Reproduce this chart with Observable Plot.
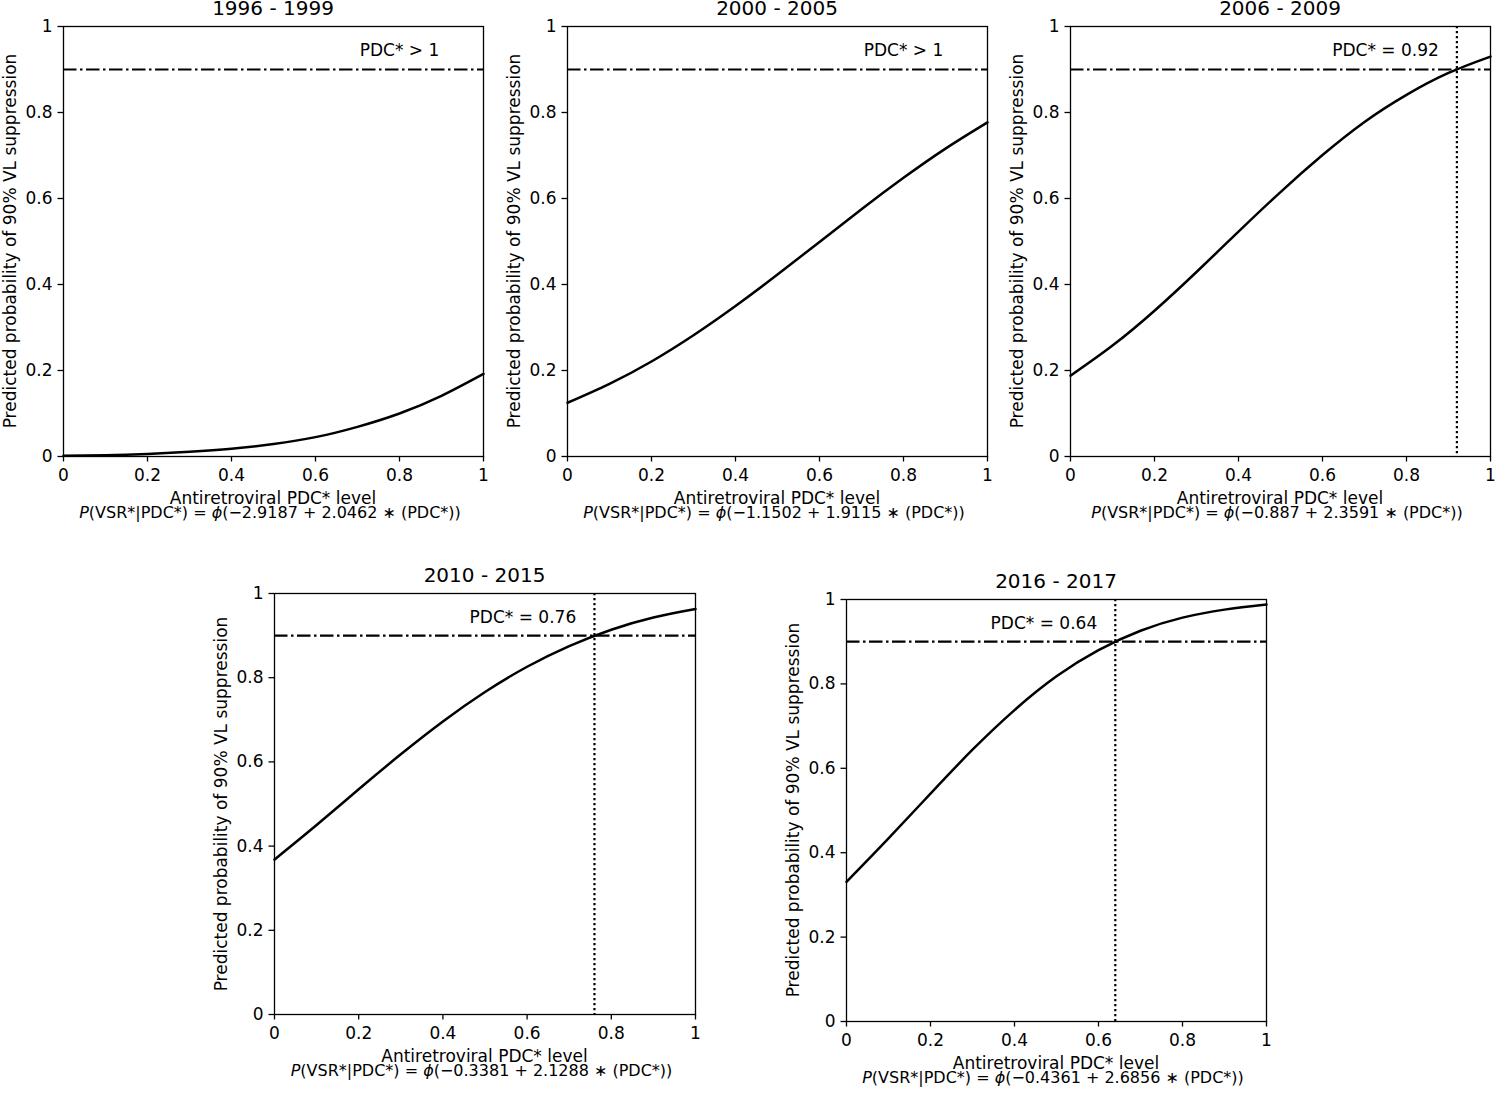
<!DOCTYPE html>
<html>
<head>
<meta charset="utf-8">
<script src="https://cdn.jsdelivr.net/npm/d3@7"></script>
<script src="https://cdn.jsdelivr.net/npm/@observablehq/plot@0.6"></script>
<style>
  html, body { margin: 0; padding: 0; background: #fff; overflow: hidden; }
  #page { position: relative; width: 1495px; height: 1093px; font-family: "DejaVu Sans", sans-serif; color: #000; }
  .abs { position: absolute; white-space: nowrap; }
  .title { font-size: 20px; line-height: 16px; transform: translateX(-50%); }
  .xlab { font-size: 17px; line-height: 13px; transform: translateX(-50%); }
  .formula { font-size: 16px; line-height: 13px; transform: translateX(-50%); }
  .ylab { font-size: 17px; line-height: 17px; transform: translate(-50%, -50%) rotate(-90deg); }
  svg { position: absolute; }
</style>
</head>
<body>
<div id="page"></div>
<script>
// ---- data ----
const periods = ["1996 - 1999", "2000 - 2005", "2006 - 2009", "2010 - 2015", "2016 - 2017"];
const pdcLevels = [0, 0.1, 0.2, 0.3, 0.4, 0.5, 0.6, 0.7, 0.8, 0.9, 1.0];
const prob1996 = [0.002, 0.003, 0.006, 0.011, 0.018, 0.029, 0.045, 0.069, 0.100, 0.141, 0.192];
const prob2000 = [0.125, 0.169, 0.221, 0.282, 0.350, 0.423, 0.499, 0.575, 0.648, 0.716, 0.777];
const prob2006 = [0.188, 0.258, 0.339, 0.429, 0.523, 0.615, 0.701, 0.778, 0.841, 0.892, 0.930];
const prob2010 = [0.368, 0.450, 0.535, 0.618, 0.696, 0.766, 0.826, 0.875, 0.914, 0.943, 0.963];
const prob2016 = [0.331, 0.434, 0.540, 0.644, 0.738, 0.818, 0.880, 0.926, 0.957, 0.976, 0.988];
const thresholds = [null, null, 0.92, 0.76, 0.64];
const annotations = ["PDC* > 1", "PDC* > 1", "PDC* = 0.92", "PDC* = 0.76", "PDC* = 0.64"];
const annotationX = [0.8, 0.8, 0.75, 0.59, 0.47];
const annotationY = 0.95;
const targetProb = 0.9;
const intercepts = ["−2.9187", "−1.1502", "−0.887", "−0.3381", "−0.4361"];
const slopes = ["2.0462", "1.9115", "2.3591", "2.1288", "2.6856"];
const tickValues = [0, 0.2, 0.4, 0.6, 0.8, 1];
const tickLabels = ["0", "0.2", "0.4", "0.6", "0.8", "1"];
const xLabel = "Antiretroviral PDC* level";
const yLabel = "Predicted probability of 90% VL suppression";
const series = [prob1996, prob2000, prob2006, prob2010, prob2016];

// ---- layout (frame boxes in page pixels) ----
const frames = [
  {L: 63, T: 26, W: 420, H: 430},
  {L: 567, T: 26, W: 420, H: 430},
  {L: 1070, T: 26, W: 420, H: 430},
  {L: 274, T: 593, W: 421, H: 421},
  {L: 846, T: 599, W: 420, H: 422}
];
const mL = 60, mR = 5, mT = 10, mB = 30;
const page = document.getElementById("page");

function addDiv(cls, html, left, top) {
  const d = document.createElement("div");
  d.className = "abs " + cls;
  d.innerHTML = html;
  d.style.left = left + "px";
  d.style.top = top + "px";
  page.appendChild(d);
  return d;
}

periods.forEach((period, i) => {
  const f = frames[i];
  const data = pdcLevels.map((x, j) => ({x, p: series[i][j]}));
  const thr = thresholds[i];
  const plot = Plot.plot({
    width: f.W + mL + mR,
    height: f.H + mT + mB,
    marginLeft: mL, marginRight: mR, marginTop: mT, marginBottom: mB,
    style: {fontFamily: "DejaVu Sans", fontSize: "17px", color: "#000", background: "transparent", overflow: "visible"},
    x: {domain: [0, 1]},
    y: {domain: [0, 1]},
    marks: [
      Plot.ruleY([targetProb], {stroke: "#000", strokeWidth: 2.2, strokeDasharray: "13.5,3.5,2.5,3.5"}),
      thr != null ? Plot.ruleX([thr], {stroke: "#000", strokeWidth: 2.2, strokeDasharray: "2.2,2.8"}) : null,
      Plot.line(data, {x: "x", y: "p", curve: "natural", stroke: "#000", strokeWidth: 2.5}),
      Plot.text([annotations[i]], {x: annotationX[i], y: annotationY, text: d => d, fontSize: 17, fill: "#000", dy: 3}),
      Plot.axisX({ticks: tickValues, tickFormat: (d, k) => tickLabels[k], tickSize: 5.5, tickPadding: 6.5, label: null, strokeWidth: 1.3}),
      Plot.axisY({ticks: tickValues, tickFormat: (d, k) => tickLabels[k], tickSize: 5.5, tickPadding: 5.5, label: null, strokeWidth: 1.3}),
      Plot.frame({stroke: "#000", strokeWidth: 1.3})
    ]
  });
  plot.style.left = (f.L - mL) + "px";
  plot.style.top = (f.T - mT) + "px";
  page.appendChild(plot);

  const cx = f.L + f.W / 2;
  const B = f.T + f.H;
  addDiv("title", period, cx, f.T - 25.6);
  addDiv("xlab", xLabel, cx, B + 35.8);
  addDiv("formula",
    `<i>P</i>(VSR*|PDC*) = <i>ϕ</i>(${intercepts[i]} + ${slopes[i]} ∗ (PDC*))`,
    cx - 3, B + 49.6);
  addDiv("ylab", yLabel, f.L - 53, f.T + f.H / 2);
});
</script>
</body>
</html>
